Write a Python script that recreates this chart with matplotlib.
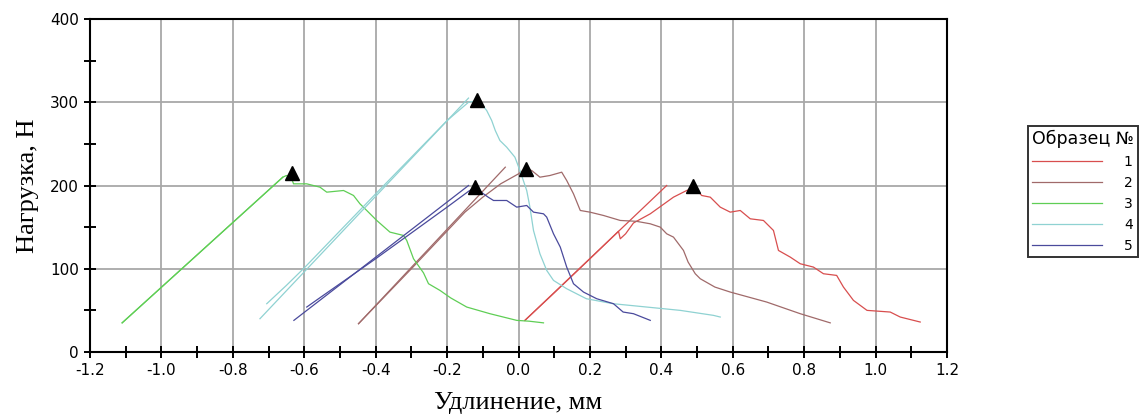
import matplotlib
matplotlib.use('Agg')
import matplotlib.pyplot as plt
from matplotlib.ticker import MultipleLocator

# --- data (elongation, mm / load, N) ---
labels = ['1', '2', '3', '4', '5']
colors = ['#d84e4e', '#a06a6a', '#5fce55', '#8fd2d2', '#4a4a9c']

x1 = [0.018, 0.10, 0.20, 0.28, 0.285, 0.30, 0.322, 0.369, 0.434, 0.471, 0.495,
      0.513, 0.537, 0.565, 0.593, 0.621, 0.649, 0.686, 0.714, 0.728, 0.761,
      0.789, 0.826, 0.854, 0.891, 0.91, 0.938, 0.976, 1.041, 1.069, 1.125]
y1 = [38, 71, 112, 145, 136, 142, 155, 166, 186, 194, 197,
      188, 186, 174, 168, 170, 160, 158, 146, 122, 114,
      106, 102, 94, 92, 78, 62, 50, 48, 42, 36]

x2 = [-0.448, -0.3, -0.15, -0.1, -0.05, 0.0, 0.018, 0.037, 0.06, 0.088, 0.121,
      0.135, 0.154, 0.173, 0.2, 0.238, 0.285, 0.33, 0.369, 0.397, 0.415, 0.434,
      0.462, 0.475, 0.495, 0.509, 0.55, 0.593, 0.695, 0.789, 0.873]
y2 = [34, 100, 168, 186, 202, 214, 220, 218, 210, 212, 216,
      206, 190, 170, 168, 164, 158, 157, 154, 150, 142, 138,
      122, 108, 94, 88, 78, 72, 60, 46, 35]

x3 = [-1.11, -0.66, -0.65, -0.635, -0.63, -0.593, -0.556, -0.537, -0.49, -0.462,
      -0.444, -0.425, -0.397, -0.36, -0.322, -0.313, -0.294, -0.266, -0.252,
      -0.22, -0.19, -0.145, -0.08, -0.005, 0.03, 0.07]
y3 = [35, 210, 212, 208, 202, 202, 198, 192, 194, 188,
      178, 170, 158, 144, 140, 134, 112, 95, 82,
      74, 65, 54, 46, 38, 37, 35]

x4 = [-0.705, -0.65, -0.6, -0.4, -0.2, -0.14, -0.115, -0.1, -0.089, -0.075,
      -0.065, -0.052, -0.033, -0.01, 0.004, 0.023, 0.032, 0.042, 0.06, 0.079,
      0.098, 0.135, 0.19, 0.265, 0.359, 0.453, 0.546, 0.565]
y4 = [58, 80, 101, 190, 278, 300, 302, 296, 290, 278,
      266, 254, 246, 234, 218, 194, 174, 146, 118, 98,
      86, 76, 64, 58, 54, 50, 44, 42]

x5 = [-0.593, -0.56, -0.5, -0.4, -0.3, -0.2, -0.14, -0.125, -0.11, -0.098,
      -0.085, -0.07, -0.033, -0.005, 0.023, 0.042, 0.07, 0.079, 0.098, 0.117,
      0.135, 0.154, 0.182, 0.219, 0.266, 0.293, 0.322, 0.369]
y5 = [54, 64, 82, 112, 143, 174, 193, 197, 194, 190,
      186, 182, 182, 174, 176, 168, 166, 162, 142, 126,
      102, 82, 72, 64, 58, 48, 46, 38]

# straight fit lines (start, end)
fit_x = [[0.018, 0.415], [-0.448, -0.037], [-1.11, -0.66], [-0.724, -0.14], [-0.629, -0.14]]
fit_y = [[38, 200], [34, 222], [35, 210], [40, 305], [38, 200]]

# peak markers
peak_x = [0.49, 0.02, -0.635, -0.115, -0.122]
peak_y = [200, 220, 215, 303, 198]

curves_x = [x1, x2, x3, x4, x5]
curves_y = [y1, y2, y3, y4, y5]

fig = plt.figure(figsize=(11.44, 4.18), dpi=100)
ax = fig.add_axes([90 / 1144, 66 / 418, 857 / 1144, 333 / 418])

for cx, cy, fx, fy, c, lab in zip(curves_x, curves_y, fit_x, fit_y, colors, labels):
    ax.plot(fx, fy, color=c, linewidth=0.9)
    ax.plot(cx, cy, color=c, linewidth=0.9, label=lab)

ax.plot(peak_x, peak_y, linestyle='none', marker='^', color='black', markersize=10)

ax.set_xlim(-1.2, 1.2)
ax.set_ylim(0, 400)
ax.xaxis.set_major_locator(MultipleLocator(0.2))
ax.xaxis.set_minor_locator(MultipleLocator(0.1))
ax.yaxis.set_major_locator(MultipleLocator(100))
ax.yaxis.set_minor_locator(MultipleLocator(50))
ax.set_xticklabels([f'{v:.1f}' for v in ax.get_xticks()])
ax.tick_params(which='both', direction='inout', length=9, width=1.4, labelsize=11)
ax.grid(True, which='major', color='#a8a8a8', linewidth=1.3)
ax.set_axisbelow(True)
for s in ax.spines.values():
    s.set_linewidth(1.5)

ax.set_xlabel('Удлинение, мм', family='Liberation Serif', fontsize=19, labelpad=10)
ax.set_ylabel('Нагрузка, Н', family='Liberation Serif', fontsize=19, labelpad=8)

leg = fig.legend(loc='upper left', bbox_to_anchor=(1028 / 1144, 1 - 126 / 418),
                 title='Образец №', alignment='left', fontsize=10, title_fontsize=12.5,
                 handlelength=5, handletextpad=1.6, labelspacing=0.5,
                 fancybox=False, frameon=True, borderpad=0.3, borderaxespad=0)
leg.get_frame().set_edgecolor('black')
leg.get_frame().set_linewidth(1.4)

fig.savefig('out.png', dpi=100)
